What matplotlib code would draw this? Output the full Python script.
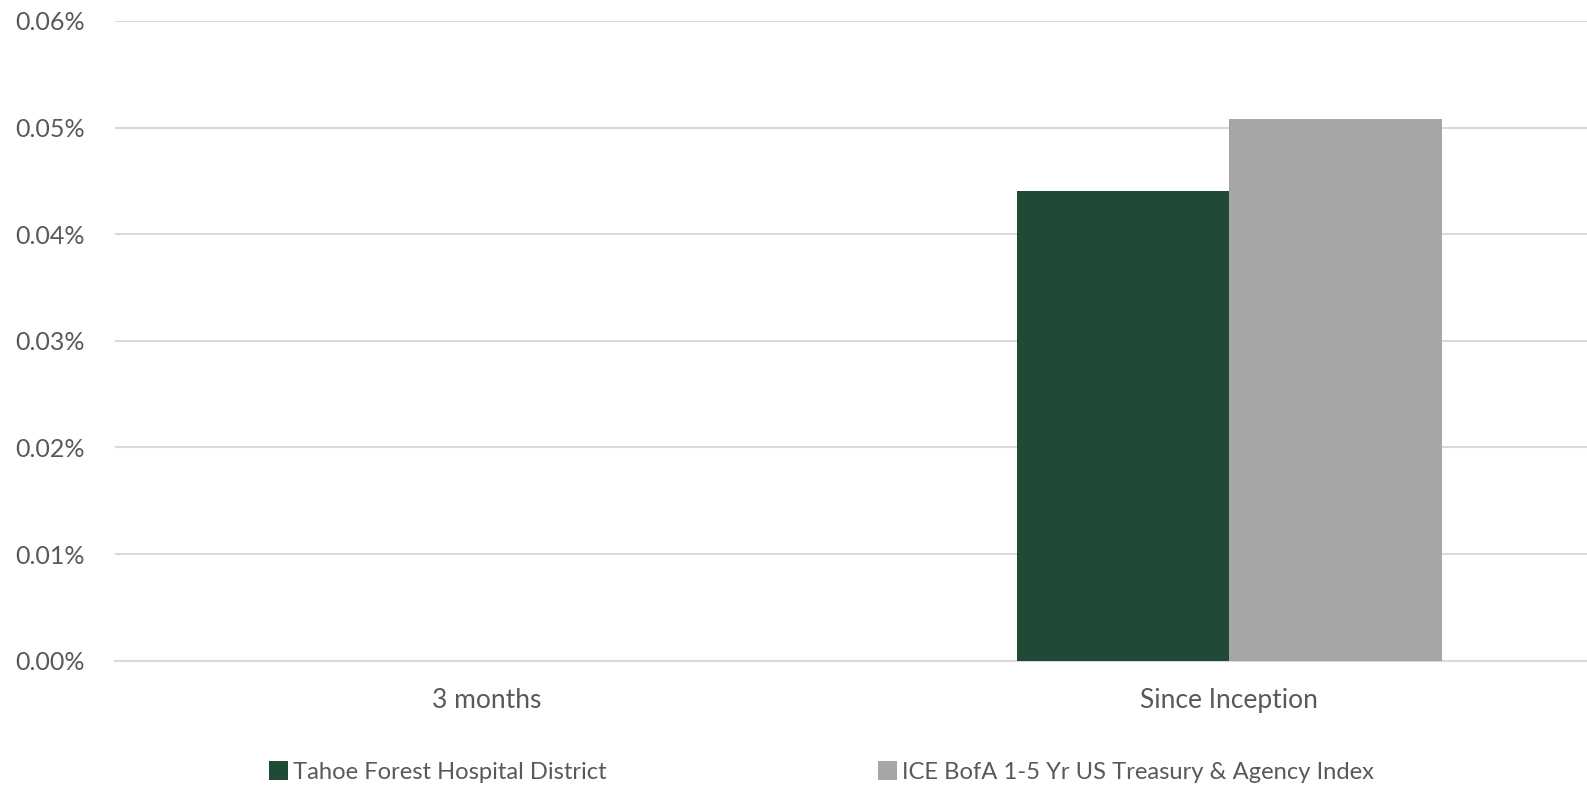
import matplotlib
matplotlib.use("Agg")
import matplotlib.pyplot as plt
from matplotlib.patches import Patch
from matplotlib.ticker import FuncFormatter, MultipleLocator
from matplotlib.transforms import ScaledTranslation

categories = ["3 months", "Since Inception"]
series_names = ["Tahoe Forest Hospital District",
                "ICE BofA 1-5 Yr US Treasury & Agency Index"]
district = [0.0, 0.0441]
benchmark = [0.0, 0.0508]
colors = ["#214A36", "#A6A6A6"]

plt.rcParams["font.family"] = ["Lato", "DejaVu Sans"]
text_color = "#595959"
grid_color = "#D9D9D9"

W, H = 1587, 785
fig = plt.figure(figsize=(W / 100, H / 100), dpi=100)
ax = fig.add_axes([115 / W, 124.3 / H, 1 - 115 / W, (764 - 124.3) / H])

width = 0.286
x = range(len(categories))
for vals, off, c in [(district, -width / 2, colors[0]), (benchmark, width / 2, colors[1])]:
    ax.bar([i + off for i in x], vals, width=width, color=c, zorder=3)

ax.set_xlim(-0.501, 1.482)
ax.set_ylim(0, 0.06)
ax.yaxis.set_major_locator(MultipleLocator(0.01))
ax.yaxis.set_major_formatter(FuncFormatter(lambda v, p: f"{v:.2f}%"))
ax.set_xticks(list(x))
ax.set_xticklabels(categories)
ax.grid(axis="y", color=grid_color, linewidth=1.5, zorder=0)
for s in ["left", "right", "top"]:
    ax.spines[s].set_visible(False)
ax.spines["bottom"].set_color(grid_color)
ax.spines["bottom"].set_linewidth(1.5)
ax.tick_params(axis="both", length=0, labelsize=18, colors=text_color)
ax.tick_params(axis="x", labelsize=19, pad=20)
ax.yaxis.set_tick_params(pad=0)
for lbl in ax.get_yticklabels():
    lbl.set_horizontalalignment("left")
    lbl.set_transform(lbl.get_transform() + ScaledTranslation(-1.0, 0, fig.dpi_scale_trans))

# legend entries placed individually along the bottom edge
legend_x = [269 / W, 878 / W]
for name, c, lx in zip(series_names, colors, legend_x):
    fig.legend([Patch(facecolor=c, edgecolor="none")], [name], loc="center left",
               bbox_to_anchor=(lx, 13 / H), frameon=False, fontsize=17.1,
               labelcolor=text_color, borderpad=0, borderaxespad=0,
               handlelength=0.8, handleheight=0.8, handletextpad=0.2)

fig.savefig("out.png", dpi=100)
